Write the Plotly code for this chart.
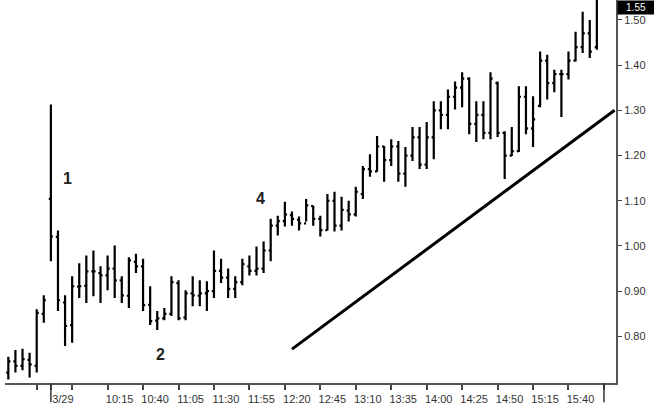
import plotly.graph_objects as go

# 5-minute bars, index 0..83
highs = [0.755, 0.770, 0.773, 0.764, 0.860, 0.891, 1.313, 1.034, 0.891, 0.933,
         0.962, 0.979, 0.990, 0.955, 0.979, 1.001, 0.933, 0.975, 0.983, 0.972,
         0.911, 0.856, 0.863, 0.933, 0.924, 0.902, 0.933, 0.924, 0.922, 0.990,
         0.972, 0.950, 0.933, 0.972, 0.979, 0.999, 1.010, 1.060, 1.067, 1.098,
         1.076, 1.065, 1.104, 1.089, 1.067, 1.115, 1.120, 1.109, 1.100, 1.131,
         1.177, 1.203, 1.243, 1.221, 1.236, 1.232, 1.219, 1.263, 1.263, 1.274,
         1.320, 1.320, 1.346, 1.364, 1.384, 1.373, 1.320, 1.320, 1.384, 1.364,
         1.254, 1.263, 1.353, 1.353, 1.331, 1.430, 1.423, 1.390, 1.390, 1.430,
         1.474, 1.518, 1.500, 1.560]
lows = [0.705, 0.720, 0.725, 0.709, 0.720, 0.830, 0.966, 0.856, 0.779, 0.786,
        0.885, 0.874, 0.889, 0.874, 0.902, 0.885, 0.874, 0.863, 0.940, 0.856,
        0.825, 0.814, 0.836, 0.845, 0.836, 0.836, 0.867, 0.867, 0.856, 0.885,
        0.918, 0.885, 0.885, 0.913, 0.935, 0.935, 0.940, 0.966, 1.023, 1.043,
        1.045, 1.034, 1.054, 1.045, 1.021, 1.034, 1.032, 1.034, 1.054, 1.065,
        1.104, 1.153, 1.164, 1.142, 1.177, 1.142, 1.131, 1.188, 1.170, 1.170,
        1.192, 1.258, 1.258, 1.302, 1.307, 1.247, 1.230, 1.236, 1.236, 1.241,
        1.148, 1.199, 1.208, 1.247, 1.219, 1.307, 1.324, 1.340, 1.285, 1.368,
        1.408, 1.427, 1.416, 1.434]
opens = [0.720, 0.745, 0.735, 0.748, 0.735, 0.850, 1.104, 1.020, 0.875, 0.825,
         0.910, 0.912, 0.944, 0.940, 0.935, 0.950, 0.924, 0.890, 0.965, 0.955,
         0.870, 0.835, 0.840, 0.850, 0.918, 0.842, 0.895, 0.890, 0.895, 0.900,
         0.945, 0.930, 0.905, 0.920, 0.955, 0.945, 0.950, 0.990, 1.045, 1.055,
         1.068, 1.058, 1.050, 1.088, 1.060, 1.035, 1.100, 1.045, 1.078, 1.070,
         1.115, 1.170, 1.165, 1.220, 1.190, 1.220, 1.160, 1.200, 1.240, 1.180,
         1.240, 1.300, 1.290, 1.330, 1.350, 1.370, 1.270, 1.290, 1.250, 1.360,
         1.250, 1.200, 1.210, 1.330, 1.260, 1.310, 1.410, 1.360, 1.380, 1.380,
         1.410, 1.440, 1.470, 1.440]
closes = [0.745, 0.735, 0.750, 0.738, 0.852, 0.880, 1.021, 0.880, 0.823, 0.911,
          0.911, 0.944, 0.944, 0.935, 0.950, 0.924, 0.891, 0.968, 0.955, 0.869,
          0.834, 0.840, 0.850, 0.920, 0.840, 0.895, 0.891, 0.895, 0.900, 0.945,
          0.930, 0.905, 0.920, 0.960, 0.945, 0.950, 0.990, 1.045, 1.055, 1.070,
          1.060, 1.050, 1.090, 1.060, 1.035, 1.100, 1.045, 1.080, 1.070, 1.120,
          1.170, 1.165, 1.220, 1.190, 1.220, 1.160, 1.200, 1.240, 1.180, 1.240,
          1.300, 1.290, 1.330, 1.350, 1.370, 1.270, 1.290, 1.250, 1.370, 1.250,
          1.200, 1.210, 1.330, 1.260, 1.280, 1.410, 1.360, 1.380, 1.380, 1.410,
          1.440, 1.470, 1.430, 1.550]
bars = list(range(len(highs)))

tick_pos = [4, 6, 9, 14, 19, 24, 29, 34, 39, 44, 49, 54, 59, 64, 69, 74, 79, 84]
tick_text = ['', '3/29', '', '10:15', '10:40', '11:05', '11:30', '11:55', '12:20',
             '12:45', '13:10', '13:35', '14:00', '14:25', '14:50', '15:15', '15:40', '']
session_marks = [6, 84]

trend_x = [40, 85.5]
trend_y = [0.772, 1.300]

notes = [('1', 8.4, 1.150), ('2', 21.5, 0.760), ('4', 35.5, 1.105)]
last_price = 1.55

font = 'Liberation Sans Narrow, Arial Narrow, Liberation Sans, Arial, sans-serif'

fig = go.Figure()
fig.add_trace(go.Ohlc(
    x=bars, open=opens, high=highs, low=lows, close=closes,
    increasing_line_color='black', decreasing_line_color='black',
    line_width=2.2, tickwidth=0.3, showlegend=False, hoverinfo='skip'
))
fig.add_trace(go.Scatter(
    x=trend_x, y=trend_y, mode='lines',
    line=dict(color='black', width=3), showlegend=False, hoverinfo='skip'
))

for txt, nx, ny in notes:
    fig.add_annotation(x=nx, y=ny, text=f'<b>{txt}</b>', showarrow=False,
                       font=dict(family='Liberation Sans, Arial, sans-serif',
                                 size=16, color='#222'))

# last price marker at the top of the price scale
fig.add_annotation(x=1, xref='paper', y=1, yref='paper', xanchor='left',
                   yanchor='top', yshift=0,
                   text=f'{last_price:.2f}', showarrow=False, bgcolor='black',
                   font=dict(family=font, size=10, color='white'),
                   borderpad=1, xshift=1, width=34)

for m in session_marks:
    fig.add_shape(type='line', x0=m, x1=m, xref='x', y0=0, y1=-0.05, yref='paper',
                  line=dict(color='#333', width=1.5))

fig.update_xaxes(
    range=[-0.47, 85.7], tickvals=tick_pos, ticktext=tick_text,
    ticks='outside', ticklen=5, tickcolor='#444', tickwidth=1.5,
    showline=True, linecolor='#555', linewidth=2,
    showgrid=False, zeroline=False, rangeslider_visible=False,
    ticklabelshift=12, tickfont=dict(family=font, size=11, color='#333')
)
fig.update_yaxes(
    side='right', range=[0.697, 1.544],
    tickvals=[0.8, 0.9, 1.0, 1.1, 1.2, 1.3, 1.4, 1.5], tickformat='.2f',
    ticks='outside', ticklen=4, tickcolor='#444',
    showline=True, linecolor='#555', linewidth=2,
    showgrid=False, zeroline=False,
    tickfont=dict(family=font, size=11, color='#333')
)
fig.update_layout(
    width=654, height=412,
    margin=dict(l=5, r=38, t=0, b=29),
    plot_bgcolor='white', paper_bgcolor='white'
)

fig.write_html('out.html', config={'displayModeBar': False},
               post_script="document.body.style.margin='0';")
